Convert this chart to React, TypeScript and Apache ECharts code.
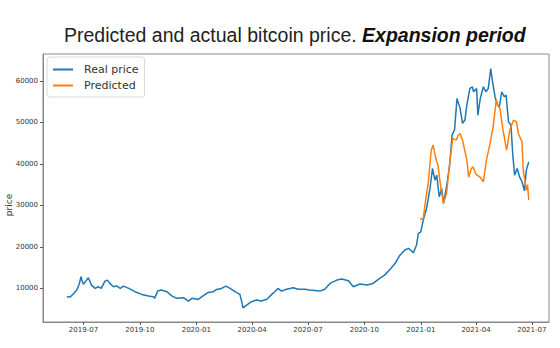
import React, { useEffect, useRef } from "react";
import * as echarts from "echarts";

const REAL_DATES = [
  "2019-06-04", "2019-06-09", "2019-06-14", "2019-06-20", "2019-06-24", "2019-06-27", "2019-06-29",
  "2019-07-01", "2019-07-05", "2019-07-09", "2019-07-14", "2019-07-20", "2019-07-25", "2019-07-30",
  "2019-08-05", "2019-08-09", "2019-08-13", "2019-08-19", "2019-08-24", "2019-08-30", "2019-09-04",
  "2019-09-13", "2019-09-23", "2019-10-04", "2019-10-15", "2019-10-23", "2019-10-25", "2019-10-30",
  "2019-11-05", "2019-11-14", "2019-11-22", "2019-11-30", "2019-12-11", "2019-12-19", "2019-12-25",
  "2020-01-04", "2020-01-12", "2020-01-20", "2020-01-29", "2020-02-03", "2020-02-11", "2020-02-18",
  "2020-02-25", "2020-03-04", "2020-03-12", "2020-03-15", "2020-03-17", "2020-03-23", "2020-03-31",
  "2020-04-08", "2020-04-16", "2020-04-25", "2020-05-03", "2020-05-08", "2020-05-13", "2020-05-19",
  "2020-05-27", "2020-06-07", "2020-06-15", "2020-06-26", "2020-07-04", "2020-07-20", "2020-07-28",
  "2020-08-06", "2020-08-17", "2020-08-25", "2020-09-05", "2020-09-13", "2020-09-24", "2020-10-05",
  "2020-10-15", "2020-10-26", "2020-11-03", "2020-11-12", "2020-11-20", "2020-11-28", "2020-12-06",
  "2020-12-12", "2020-12-20", "2020-12-25", "2020-12-28", "2021-01-01", "2021-01-05", "2021-01-10",
  "2021-01-16", "2021-01-20", "2021-01-24", "2021-01-27", "2021-01-31", "2021-02-04", "2021-02-07",
  "2021-02-12", "2021-02-17", "2021-02-21", "2021-02-25", "2021-03-01", "2021-03-06", "2021-03-10",
  "2021-03-14", "2021-03-17", "2021-03-22", "2021-03-26", "2021-03-28", "2021-04-02", "2021-04-04",
  "2021-04-08", "2021-04-13", "2021-04-17", "2021-04-21", "2021-04-25", "2021-04-28", "2021-05-02",
  "2021-05-06", "2021-05-09", "2021-05-13", "2021-05-17", "2021-05-20", "2021-05-24", "2021-05-28",
  "2021-05-31", "2021-06-03", "2021-06-07", "2021-06-11", "2021-06-15", "2021-06-19", "2021-06-22",
  "2021-06-26",
];
const REAL_PRICES = [
  8000, 7900, 8600, 9600, 11000, 12800, 11700,
  11000, 11800, 12550, 10800, 10000, 10400, 10000,
  11750, 12000, 11200, 10400, 10600, 10000, 10550,
  10000, 9200, 8550, 8150, 8000, 7600, 9350,
  9600, 9200, 8200, 7600, 7750, 6950, 7600,
  7350, 8200, 9000, 9200, 9750, 10000, 10550,
  10000, 9200, 8550, 6800, 5300, 5950, 6800,
  7200, 6950, 7400, 8550, 9200, 10000, 9350,
  9800, 10150, 9800, 9800, 9600, 9350, 9750,
  11200, 12000, 12250, 11850, 10400, 11050, 10800,
  11200, 12400, 13200, 14600, 16000, 18000, 19250,
  19650, 18600, 20450, 23250, 23650, 26450, 29000,
  34100, 38900, 36100, 37300, 32100, 34100, 30500,
  34500, 39700, 47000, 48200, 55800, 53400, 49800,
  50600, 54200, 58200, 58600, 57400, 58200, 51750,
  55800, 58600, 57400, 58200, 63000, 59800, 56200,
  54200, 53800, 57400, 56200, 56600, 50150, 49350,
  42100, 37300, 38900, 36900, 35700, 33500, 38500,
  40500,
];

const PRED_DATES = [
  "2020-12-31", "2021-01-05", "2021-01-09", "2021-01-13", "2021-01-18", "2021-01-21", "2021-01-26",
  "2021-01-29", "2021-02-01", "2021-02-04", "2021-02-07", "2021-02-12", "2021-02-17", "2021-02-22",
  "2021-02-28", "2021-03-03", "2021-03-06", "2021-03-10", "2021-03-14", "2021-03-17", "2021-03-20",
  "2021-03-24", "2021-03-27", "2021-04-01", "2021-04-07", "2021-04-13", "2021-04-18", "2021-04-24",
  "2021-04-29", "2021-05-04", "2021-05-07", "2021-05-10", "2021-05-15", "2021-05-21", "2021-05-26",
  "2021-06-01", "2021-06-06", "2021-06-09", "2021-06-15", "2021-06-17", "2021-06-22", "2021-06-24",
  "2021-06-26",
];
const PRED_PRICES = [
  26650, 26900, 31500, 35300, 43300, 44550, 41000,
  39700, 36100, 33000, 30500, 32900, 40100, 46150,
  45750, 46900, 47350, 45750, 43000, 41000, 36800,
  38800, 39300, 37500, 36900, 35700, 41000, 45000,
  49000, 55400, 54000, 53400, 48150, 43300, 48150,
  50550, 50150, 47350, 45350, 38500, 33700, 35000,
  31300,
];

const X_TICKS = [
  "2019-07", "2019-10", "2020-01", "2020-04", "2020-07",
  "2020-10", "2021-01", "2021-04", "2021-07",
];
const Y_TICKS = [10000, 20000, 30000, 40000, 50000, 60000];

const SERIES_NAMES = ["Real price", "Predicted"];
const TITLE_PLAIN = "Predicted and actual bitcoin price. ";
const TITLE_BOLD = "Expansion period";
const Y_NAME = "price";

const ts = (s: string) => {
  const [y, m, d] = s.split("-").map(Number);
  return Date.UTC(y, m - 1, d || 1);
};

export default function App() {
  const ref = useRef<HTMLDivElement>(null);

  useEffect(() => {
    document.body.style.margin = "0";
    if (!ref.current) return;
    const chart = echarts.init(ref.current, undefined, { renderer: "svg" });
    const tickVals = X_TICKS.map(ts);
    const pad2 = (n: number) => (n < 10 ? "0" + n : "" + n);
    const tickFont = "DejaVu Sans";

    chart.setOption({
      animation: false,
      backgroundColor: "#ffffff",
      title: {
        left: 59,
        top: 20,
        text: `{a|${TITLE_PLAIN}}{b|${TITLE_BOLD}}`,
        textStyle: {
          fontWeight: "normal",
          rich: {
            a: {
              fontSize: 19.5,
              fontFamily: "Liberation Sans",
              fontWeight: "normal",
              color: "#222",
            },
            b: {
              fontSize: 19.5,
              fontFamily: "Liberation Sans",
              fontWeight: "bold",
              fontStyle: "italic",
              color: "#111",
            },
          },
        },
      },
      legend: {
        orient: "vertical",
        left: 47,
        top: 57,
        padding: [6, 6, 5, 6],
        itemGap: 3,
        itemWidth: 20,
        itemHeight: 2,
        icon: "rect",
        backgroundColor: "#ffffff",
        borderColor: "#d8d8d8",
        borderWidth: 1,
        borderRadius: 3,
        data: SERIES_NAMES,
        textStyle: {
          fontFamily: tickFont,
          fontSize: 11,
          color: "#333",
          lineHeight: 13,
          padding: [0, 0, 0, 6],
        },
      },
      grid: {
        left: 43,
        right: 11,
        top: 54,
        bottom: 26,
        show: true,
        borderColor: "#888",
        borderWidth: 1,
        backgroundColor: "transparent",
      },
      xAxis: {
        type: "value",
        min: ts("2019-04-26"),
        max: ts("2021-07-29"),
        axisLine: { show: true, lineStyle: { color: "#888", width: 1 } },
        axisTick: {
          show: true,
          length: 3,
          customValues: tickVals,
          lineStyle: { color: "#555" },
        },
        splitLine: { show: false },
        axisLabel: {
          customValues: tickVals,
          margin: 4,
          fontSize: 7,
          fontFamily: tickFont,
          color: "#333",
          formatter: (v: number) => {
            const d = new Date(v);
            return d.getUTCFullYear() + "-" + pad2(d.getUTCMonth() + 1);
          },
        },
      },
      yAxis: {
        type: "value",
        min: 1900,
        max: 66500,
        axisLine: { show: true, lineStyle: { color: "#888", width: 1 } },
        axisTick: {
          show: true,
          length: 3,
          customValues: Y_TICKS,
          lineStyle: { color: "#555" },
        },
        splitLine: { show: false },
        axisLabel: {
          customValues: Y_TICKS,
          margin: 5,
          fontSize: 7,
          fontFamily: tickFont,
          color: "#333",
          formatter: (v: number) => String(v),
        },
      },
      graphic: [
        {
          type: "text",
          x: 9,
          y: 205,
          rotation: Math.PI / 2,
          style: {
            text: Y_NAME,
            fontSize: 9,
            fontFamily: tickFont,
            fill: "#333",
            textAlign: "center",
            textVerticalAlign: "middle",
          },
        },
      ],
      series: [
        {
          name: SERIES_NAMES[0],
          type: "line",
          symbol: "none",
          showSymbol: false,
          color: "#1f77b4",
          lineStyle: { width: 1.5, color: "#1f77b4" },
          data: REAL_DATES.map((d, i) => [ts(d), REAL_PRICES[i]]),
        },
        {
          name: SERIES_NAMES[1],
          type: "line",
          symbol: "none",
          showSymbol: false,
          color: "#ff7f0e",
          lineStyle: { width: 1.5, color: "#ff7f0e" },
          data: PRED_DATES.map((d, i) => [ts(d), PRED_PRICES[i]]),
        },
      ],
    });

    return () => chart.dispose();
  }, []);

  return <div ref={ref} style={{ width: 560, height: 348 }} />;
}
